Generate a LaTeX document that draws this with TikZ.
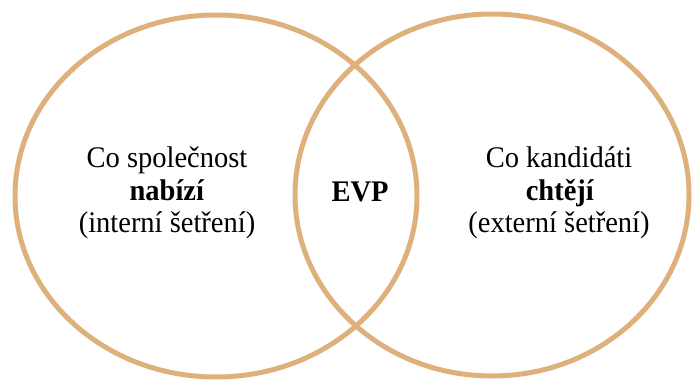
\documentclass[tikz,border=0pt]{standalone}
\usepackage{fontspec}
\setmainfont{Liberation Serif}
\definecolor{ringcol}{RGB}{222,176,124}
\newcommand{\tallt}[1]{\scalebox{1}[1.05]{#1}}
\begin{document}
\begin{tikzpicture}[x=1pt,y=-1pt,
  ring/.style={draw=ringcol,line width=5pt},
  lbl/.style={anchor=base,inner sep=0pt,font=\fontsize{28.5}{33}\selectfont}]
\useasboundingbox (0,0) rectangle (692,380);
\draw[ring] (216,196) ellipse [x radius=201pt, y radius=181pt];
\draw[ring] (492,195) ellipse [x radius=197pt, y radius=181pt];
\node[lbl] (l1) at (167,167) {\tallt{Co společnost}};
\node[lbl] (l2) at (167,200) {\tallt{\textbf{nabízí}}};
\node[lbl] (l3) at (167,232) {\tallt{(interní šetření)}};
\node[lbl] (evp) at (360,201) {\tallt{\textbf{EVP}}};
\node[lbl] (r1) at (559,167) {\tallt{Co kandidáti}};
\node[lbl] (r2) at (560,200) {\tallt{\textbf{chtějí}}};
\node[lbl] (r3) at (559,232) {\tallt{(externí šetření)}};
\end{tikzpicture}
\end{document}
